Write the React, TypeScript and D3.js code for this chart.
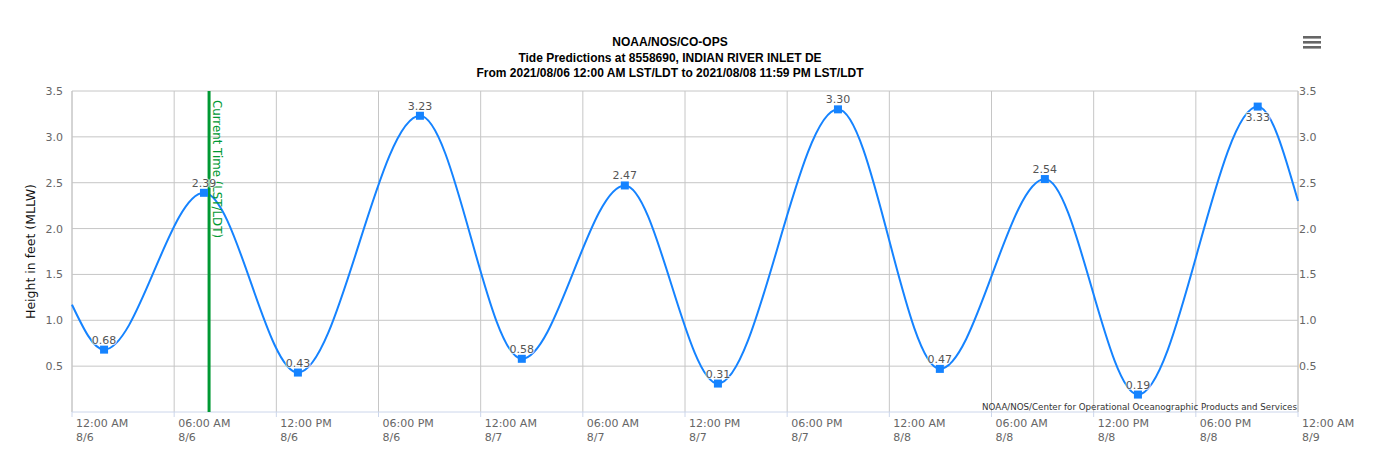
import * as React from "react";
import * as d3 from "d3";

// high / low predictions (local time)
const hiLoTimes: string[] = [
    "2021-08-06 01:53", "2021-08-06 07:45", "2021-08-06 13:16", "2021-08-06 20:26",
    "2021-08-07 02:25", "2021-08-07 08:28", "2021-08-07 13:56", "2021-08-07 20:59",
    "2021-08-08 02:58", "2021-08-08 09:08", "2021-08-08 14:36", "2021-08-08 21:38",
];
const hiLoHeights: number[] = [0.68, 2.39, 0.43, 3.23, 0.58, 2.47, 0.31, 3.30, 0.47, 2.54, 0.19, 3.33];

// values where the curve meets the plot edges
const edgeTimes: string[] = ["2021-08-06 00:00", "2021-08-09 00:00"];
const edgeHeights: number[] = [1.17, 2.3];

const yTicks: number[] = [0.5, 1.0, 1.5, 2.0, 2.5, 3.0, 3.5];
const currentTime: string = "2021-08-06 08:03";

const titleLines: string[] = [
    "NOAA/NOS/CO-OPS",
    "Tide Predictions at 8558690, INDIAN RIVER INLET DE",
    "From 2021/08/06 12:00 AM LST/LDT to 2021/08/08 11:59 PM LST/LDT",
];
const yTitle: string = "Height in feet (MLLW)";
const credits: string = "NOAA/NOS/Center for Operational Oceanographic Products and Services";

const blue: string = "#1583ff";
const green: string = "#009933";
const grid: string = "#c6c6c6";
const axisBlue: string = "#ccd6eb";
const labelGrey: string = "#666666";

interface Point {
    t: Date;
    v: number;
}

const parse = d3.timeParse("%Y-%m-%d %H:%M");

const App = (): JSX.Element => {
    const width: number = 1373;
    const height: number = 466;
    const margin = { top: 91, right: 75, bottom: 54, left: 72 };
    const plotW: number = width - margin.left - margin.right;
    const plotH: number = height - margin.top - margin.bottom;

    const x = d3.scaleTime()
        .domain([parse(edgeTimes[0]) as Date, parse(edgeTimes[1]) as Date])
        .range([0, plotW]);
    const y = d3.scaleLinear().domain([0, 3.5]).range([plotH, 0]);

    const markers: Point[] = hiLoTimes.map((s, i) => ({ t: parse(s) as Date, v: hiLoHeights[i] }));
    const series: Point[] = [
        { t: parse(edgeTimes[0]) as Date, v: edgeHeights[0] },
        ...markers,
        { t: parse(edgeTimes[1]) as Date, v: edgeHeights[1] },
    ];

    const line = d3.line<Point>()
        .x((d) => x(d.t))
        .y((d) => y(d.v))
        .curve(d3.curveMonotoneX);

    const xTicks: Date[] = x.ticks(d3.timeHour.every(6) as d3.TimeInterval);
    const fmtTime = d3.timeFormat("%I:%M %p");
    const fmtDay = d3.timeFormat("%-m/%-d");
    const nowX: number = x(parse(currentTime) as Date);

    return (
        <svg width={width} height={height} style={{ position: "absolute", left: 0, top: 0, background: "#fff" }}>
            {titleLines.map((s, i) => (
                <text key={s} x={670} y={46 + i * 15.5} textAnchor="middle"
                    fontFamily="Liberation Sans, Arial, sans-serif" fontWeight="bold" fontSize={12} fill="#000">
                    {s}
                </text>
            ))}

            <g fill="#666">
                <rect x={1303} y={36} width={18} height={2.6} />
                <rect x={1303} y={41} width={18} height={2.6} />
                <rect x={1303} y={46} width={18} height={2.6} />
            </g>

            <text transform={`translate(35, ${margin.top + plotH / 2}) rotate(-90)`} textAnchor="middle"
                fontFamily="DejaVu Sans, sans-serif" fontSize={12.5} fill="#111">
                {yTitle}
            </text>

            <g transform={`translate(${margin.left},${margin.top})`}>
                {yTicks.map((t) => (
                    <line key={t} x1={0} x2={plotW} y1={y(t)} y2={y(t)} stroke={grid} strokeWidth={1} />
                ))}
                {xTicks.map((t, i) => (
                    <line key={i} x1={x(t)} x2={x(t)} y1={0} y2={plotH} stroke={grid} strokeWidth={1} />
                ))}
                <line x1={0} x2={0} y1={0} y2={plotH} stroke={grid} />
                <line x1={plotW} x2={plotW} y1={0} y2={plotH} stroke={grid} />
                <line x1={0} x2={plotW} y1={plotH} y2={plotH} stroke={axisBlue} />
                {xTicks.map((t, i) => (
                    <line key={i} x1={x(t)} x2={x(t)} y1={plotH} y2={plotH + 5} stroke={axisBlue} />
                ))}

                {yTicks.map((t) => (
                    <text key={t} x={-9} y={y(t) + 4} textAnchor="end"
                        fontFamily="DejaVu Sans, sans-serif" fontSize={11} fill={labelGrey}>
                        {t.toFixed(1)}
                    </text>
                ))}
                {yTicks.map((t) => (
                    <text key={t} x={plotW + 1} y={y(t) + 4} textAnchor="start"
                        fontFamily="DejaVu Sans, sans-serif" fontSize={11} fill={labelGrey}>
                        {t.toFixed(1)}
                    </text>
                ))}
                {xTicks.map((t, i) => (
                    <text key={i} x={x(t) + 4} fontFamily="DejaVu Sans, sans-serif" fontSize={11} fill={labelGrey}>
                        <tspan x={x(t) + 4} y={plotH + 15}>{fmtTime(t)}</tspan>
                        <tspan x={x(t) + 4} y={plotH + 29}>{fmtDay(t)}</tspan>
                    </text>
                ))}

                <text x={plotW - 1} y={plotH - 2} textAnchor="end"
                    fontFamily="DejaVu Sans, sans-serif" fontSize={8.7} fill="#333">
                    {credits}
                </text>

                <path d={line(series) as string} fill="none" stroke={blue} strokeWidth={2} />

                <line x1={nowX} x2={nowX} y1={0} y2={plotH} stroke={green} strokeWidth={3} />
                <text transform={`translate(${nowX + 4}, 9) rotate(90)`}
                    fontFamily="DejaVu Sans, sans-serif" fontSize={11.8} fill={green}>
                    Current Time (LST/LDT)
                </text>

                {markers.map((d, i) => (
                    <rect key={i} x={x(d.t) - 4} y={y(d.v) - 4} width={8} height={8} fill={blue} />
                ))}
                {markers.map((d, i) => {
                    const above: boolean = y(d.v) - 16 >= 0;
                    return (
                        <text key={i} x={x(d.t)} y={above ? y(d.v) - 6 : y(d.v) + 14} textAnchor="middle"
                            fontFamily="DejaVu Sans, sans-serif" fontSize={11} fill="#555"
                            stroke="#fff" strokeWidth={2} strokeOpacity={0.7} paintOrder="stroke">
                            {d.v.toFixed(2)}
                        </text>
                    );
                })}
            </g>
        </svg>
    );
};

export default App;
